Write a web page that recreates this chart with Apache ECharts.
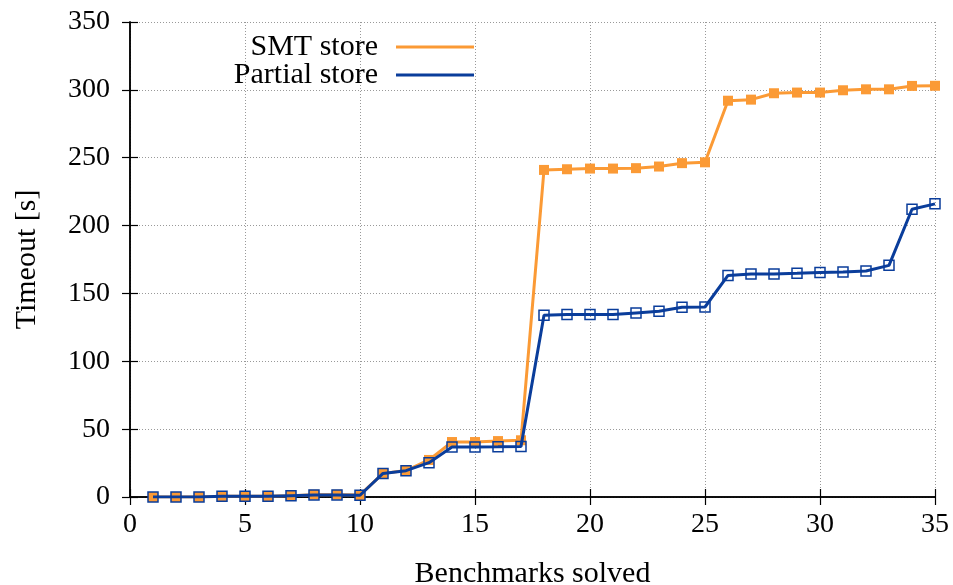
<!DOCTYPE html>
<html>
<head>
<meta charset="utf-8">
<script src="https://cdn.jsdelivr.net/npm/echarts@6/dist/echarts.min.js"></script>
<style>
  html, body { margin: 0; padding: 0; background: #fff; }
  #chart { width: 953px; height: 585px; }
</style>
</head>
<body>
<div id="chart"></div>
<script>
document.addEventListener("DOMContentLoaded", function() {

    // benchmark index 1..35
    const solved = [1, 2, 3, 4, 5, 6, 7, 8, 9, 10, 11, 12, 13, 14, 15, 16, 17, 18,
        19, 20, 21, 22, 23, 24, 25, 26, 27, 28, 29, 30, 31, 32, 33, 34, 35];

    const smtStore = [0, 0, 0, 0.5, 0.5, 0.5, 1, 1.7, 1.7, 1.5, 17.4, 19.5, 27.3, 40.5,
        40.5, 41.2, 41.8, 241, 241.5, 242, 242, 242.3, 243.5, 246, 246.6, 292, 292.8,
        297.5, 298, 298, 299.7, 300.4, 300.4, 302.9, 303];

    const partialStore = [0, 0, 0, 0.5, 0.5, 0.5, 1, 1.5, 1.5, 1.3, 17.4, 19.4, 25.3, 36.8,
        36.8, 37, 37.3, 133.9, 134.4, 134.4, 134.4, 135.6, 136.8, 139.8, 140, 163.3,
        164.3, 164.3, 164.8, 165.5, 165.8, 166.5, 170.7, 212, 216];

    const seriesNames = ['SMT store', 'Partial store'];
    const colors = ['#fb9a35', '#0a3d9b'];

    const font = '"Liberation Serif", "DejaVu Serif", serif';
    const pairs = (ys) => solved.map((x, i) => [x, ys[i]]);

    const xBase = {
        type: 'value', min: 0, max: 35, interval: 5,
        axisLine: {show: true, lineStyle: {color: '#000', width: 1.5}},
        axisTick: {show: true, inside: true, length: 8, lineStyle: {color: '#000', width: 1.2}}
    };
    const yBase = {
        type: 'value', min: 0, max: 350, interval: 50,
        axisLine: {show: true, lineStyle: {color: '#000', width: 1.5}},
        axisTick: {show: true, inside: true, length: 8, lineStyle: {color: '#000', width: 1.2}}
    };
    const grid = {type: [1, 2], color: '#999', width: 1};

    // text on the left, line sample on the right
    const legendFor = (i, top) => ({
        data: [{name: seriesNames[i], itemStyle: {color: colors[i], borderWidth: 0}}],
        right: 474,
        top: top,
        align: 'right',
        icon: 'rect',
        itemWidth: 78,
        itemHeight: 3,
        itemGap: 0,
        selectedMode: false,
        textStyle: {fontFamily: font, fontSize: 30, color: '#000', padding: [0, 13, 0, 0]}
    });

    const chart = echarts.init(document.getElementById('chart'));
    chart.setOption({
        animation: false,
        backgroundColor: '#fff',
        grid: {left: 130, right: 18, top: 22, bottom: 88, containLabel: false, outerBoundsMode: 'none'},
        legend: [legendFor(0, 27), legendFor(1, 55)],
        xAxis: [
            Object.assign({}, xBase, {
                position: 'bottom',
                name: 'Benchmarks solved',
                nameLocation: 'middle',
                nameGap: 62,
                nameTextStyle: {fontFamily: font, fontSize: 30, color: '#000'},
                axisLabel: {fontFamily: font, fontSize: 28, color: '#000', margin: 14},
                splitLine: {show: true, lineStyle: grid}
            }),
            Object.assign({}, xBase, {
                position: 'top',
                axisLabel: {show: false},
                splitLine: {show: false}
            })
        ],
        yAxis: [
            Object.assign({}, yBase, {
                position: 'left',
                name: 'Timeout [s]',
                nameLocation: 'middle',
                nameGap: 88,
                nameTextStyle: {fontFamily: font, fontSize: 30, color: '#000'},
                axisLabel: {fontFamily: font, fontSize: 28, color: '#000', margin: 20},
                splitLine: {show: true, lineStyle: grid}
            }),
            Object.assign({}, yBase, {
                position: 'right',
                axisLabel: {show: false},
                splitLine: {show: false}
            })
        ],
        series: [
            {
                name: seriesNames[0],
                type: 'line',
                data: pairs(smtStore),
                symbol: 'rect',
                symbolSize: 10,
                lineStyle: {color: colors[0], width: 3},
                itemStyle: {color: colors[0]},
                z: 2
            },
            {
                name: seriesNames[1],
                type: 'line',
                data: pairs(partialStore),
                symbol: 'rect',
                symbolSize: 10,
                lineStyle: {color: colors[1], width: 3},
                itemStyle: {color: 'rgba(0,0,0,0)', borderColor: colors[1], borderWidth: 1.5},
                z: 3
            }
        ]
    });

});
</script>
</body>
</html>
